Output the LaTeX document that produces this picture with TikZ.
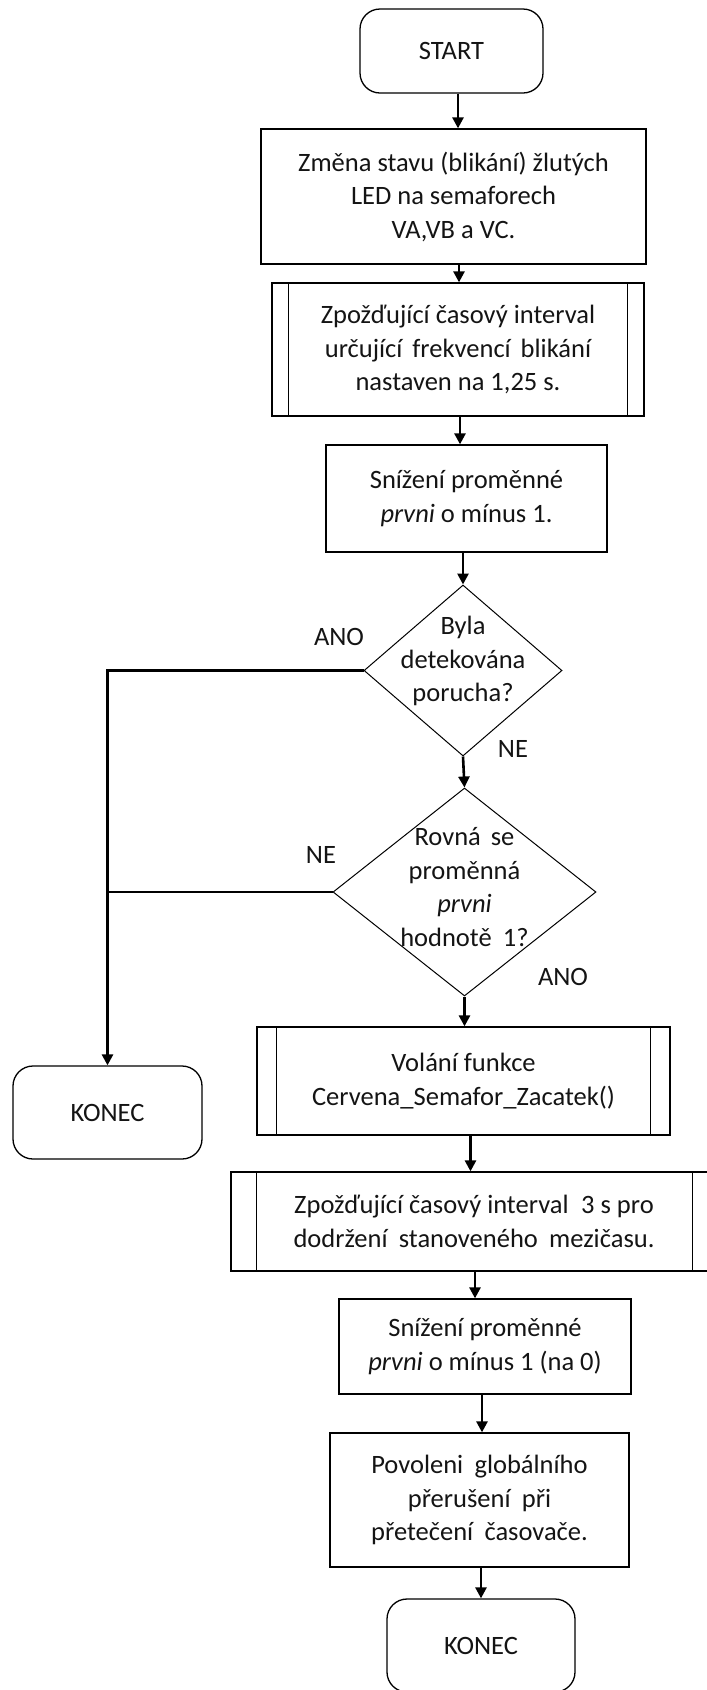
\documentclass[tikz,border=0pt]{standalone}
\usepackage{fontspec}
\setmainfont{Carlito}
\usetikzlibrary{shapes.geometric,arrows.meta}
\begin{document}
\begin{tikzpicture}[x=1pt,y=-1pt,
  every node/.style={font=\fontsize{26.5}{33.5}\selectfont, text=black!92},
  box/.style={draw, line width=1.3pt, rectangle, inner sep=0pt, align=center},
  term/.style={box, rounded corners=20pt},
  dec/.style={draw, line width=1pt, diamond, inner sep=0pt},
  lbl/.style={inner sep=0pt, align=center},
  arr/.style={line width=2.6pt, -{Triangle[length=11pt,width=11pt]}},
  flow/.style={line width=2.6pt},
  bar/.style={line width=1.3pt}
]
\useasboundingbox (0,0) rectangle (707,1690);

% main column
\node[term, minimum width=183pt, minimum height=84pt] (start) at (451.5,51) {START};
\node[box, minimum width=385pt, minimum height=135pt] (chg) at (453.5,196.5)
  {Změna stavu (blikání) žlutých\\LED na semaforech\\VA,VB a VC.};
\node[box, minimum width=372pt, minimum height=133pt] (dly1) at (458,349.5)
  {Zpožďující časový interval\\určující\hspace{0.15em} frekvencí\hspace{0.15em} blikání\\nastaven na 1,25 s.};
\node[box, minimum width=281pt, minimum height=107pt] (dec1) at (466.5,498.5)
  {Snížení proměnné\\\textit{prvni} o mínus 1.};

% decisions
\node[dec, minimum width=198pt, minimum height=171pt] (q1) at (463,670.5) {};
\node[lbl] (q1t) at (463,661) {Byla\\detekována\\porucha?};
\node[dec, minimum width=263pt, minimum height=208pt] (q2) at (464.5,892) {};
\node[lbl] (q2t) at (464.5,887) {Rovná\hspace{0.15em} se\\proměnná\\\textit{prvni}\\hodnotě\hspace{0.2em} 1?};

% branch labels
\node[lbl] (ano1) at (339,637) {ANO};
\node[lbl] (ne1) at (513,749) {NE};
\node[lbl] (ne2) at (321,855) {NE};
\node[lbl] (ano2) at (563,977) {ANO};

\node[term, minimum width=189pt, minimum height=93pt] (end1) at (107.5,1112.5) {KONEC};

\node[box, minimum width=413pt, minimum height=108pt] (call) at (463.5,1081)
  {Volání funkce\\Cervena\_Semafor\_Zacatek()};
\node[box, minimum width=486pt, minimum height=99pt] (dly2) at (474,1221.5)
  {Zpožďující časový interval\hspace{0.25em} 3 s pro\\dodržení\hspace{0.2em} stanoveného\hspace{0.2em} mezičasu.};
\node[box, minimum width=292pt, minimum height=95pt] (dec2) at (485,1346.5)
  {Snížení proměnné\\\textit{prvni} o mínus 1 (na 0)};
\node[box, minimum width=299pt, minimum height=134pt] (irq) at (479.5,1500)
  {Povoleni\hspace{0.2em} globálního\\přerušení\hspace{0.2em} při\\přetečení\hspace{0.2em} časovače.};
\node[term, minimum width=188pt, minimum height=93pt] (end2) at (481,1645.5) {KONEC};

% predefined-process side bars
\draw[bar] ([xshift=17pt]dly1.north west) -- ([xshift=17pt]dly1.south west);
\draw[bar] ([xshift=-17pt]dly1.north east) -- ([xshift=-17pt]dly1.south east);
\draw[bar] ([xshift=20pt]call.north west) -- ([xshift=20pt]call.south west);
\draw[bar] ([xshift=-20pt]call.north east) -- ([xshift=-20pt]call.south east);
\draw[bar] ([xshift=26pt]dly2.north west) -- ([xshift=26pt]dly2.south west);
\draw[bar] ([xshift=-25pt]dly2.north east) -- ([xshift=-25pt]dly2.south east);

% arrow columns
\coordinate (c1) at (458,0);
\coordinate (c2) at (459,0);
\coordinate (c3) at (460,0);
\coordinate (c4) at (470.5,0);
\coordinate (c5) at (475,0);
\coordinate (c6) at (482,0);

% connectors
\draw[arr] (start.south -| c1) -- (chg.north -| c1);
\draw[arr] (chg.south -| c2) -- (dly1.north -| c2);
\draw[arr] (dly1.south -| c3) -- (dec1.north -| c3);
\draw[arr] (dec1.south -| q1.north) -- (q1.north);
\draw[arr] (q1.south) -- (q2.north);
\draw[arr] (q2.south) -- (q2.south |- call.north);
\draw[arr] (call.south -| c4) -- (dly2.north -| c4);
\draw[arr] (dly2.south -| c5) -- (dec2.north -| c5);
\draw[arr] (dec2.south -| c6) -- (irq.north -| c6);
\draw[arr] (irq.south -| end2.north) -- (end2.north);

% error branches to the left
\draw[arr] (q1.west) -| (end1.north);
\draw[flow] (q2.west) -- (q2.west -| end1.north);
\end{tikzpicture}
\end{document}
